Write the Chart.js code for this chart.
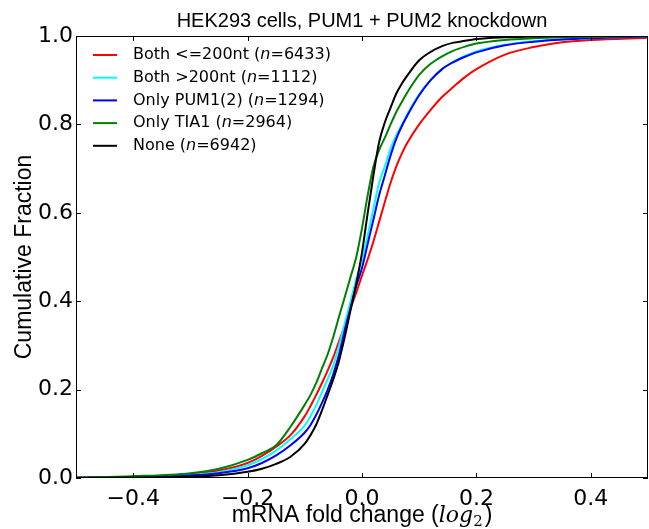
<!DOCTYPE html>
<html>
<head>
<meta charset="utf-8">
<script src="https://cdn.jsdelivr.net/npm/chart.js@4.4.1/dist/chart.umd.min.js"></script>
<style>
  body { margin: 0; background: #fff; }
  canvas { display: block; }
</style>
</head>
<body>
<canvas id="cdf" width="649" height="529"></canvas>
<script>
// fold change grid (log2) and cumulative fractions
const foldChange = [-0.5, -0.4, -0.3, -0.25, -0.2, -0.175, -0.15, -0.125, -0.1, -0.09,
  -0.08, -0.07, -0.06, -0.05, -0.04, -0.03, -0.02, -0.01, 0, 0.01,
  0.02, 0.03, 0.04, 0.05, 0.06, 0.07, 0.08, 0.1, 0.12, 0.14,
  0.16, 0.18, 0.2, 0.25, 0.3, 0.35, 0.4, 0.5];

const bothShort = [0.001, 0.003, 0.009, 0.017, 0.034, 0.05, 0.071, 0.097, 0.14, 0.163,
  0.188, 0.215, 0.243, 0.274, 0.31, 0.345, 0.383, 0.42, 0.458, 0.495,
  0.535, 0.58, 0.625, 0.668, 0.705, 0.735, 0.76, 0.80, 0.833, 0.862,
  0.885, 0.907, 0.925, 0.958, 0.975, 0.986, 0.991, 0.996];
const bothLong = [0.0005, 0.002, 0.007, 0.013, 0.029, 0.043, 0.062, 0.088, 0.119, 0.14,
  0.165, 0.194, 0.224, 0.256, 0.30, 0.35, 0.40, 0.45, 0.495, 0.55,
  0.61, 0.668, 0.705, 0.745, 0.775, 0.80, 0.825, 0.868, 0.90, 0.925,
  0.942, 0.955, 0.965, 0.98, 0.988, 0.992, 0.995, 0.999];
const onlyPum = [0.0005, 0.002, 0.006, 0.011, 0.022, 0.034, 0.051, 0.074, 0.103, 0.12,
  0.143, 0.17, 0.20, 0.236, 0.28, 0.335, 0.385, 0.435, 0.475, 0.53,
  0.585, 0.64, 0.685, 0.73, 0.768, 0.797, 0.822, 0.866, 0.90, 0.925,
  0.941, 0.953, 0.963, 0.979, 0.987, 0.992, 0.995, 0.999];
const onlyTia = [0.001, 0.004, 0.011, 0.021, 0.041, 0.056, 0.074, 0.116, 0.166, 0.188,
  0.215, 0.248, 0.28, 0.32, 0.366, 0.41, 0.455, 0.50, 0.565, 0.64,
  0.705, 0.742, 0.77, 0.80, 0.828, 0.852, 0.874, 0.912, 0.937, 0.954,
  0.967, 0.976, 0.983, 0.991, 0.995, 0.997, 0.998, 1.0];
const noneSet = [0.0, 0.001, 0.003, 0.006, 0.014, 0.021, 0.032, 0.048, 0.078, 0.097,
  0.121, 0.153, 0.188, 0.224, 0.266, 0.32, 0.38, 0.44, 0.51, 0.60,
  0.685, 0.76, 0.805, 0.838, 0.87, 0.893, 0.912, 0.945, 0.964, 0.977,
  0.985, 0.989, 0.993, 0.997, 0.999, 0.9995, 1.0, 1.0];

const seriesNames = ["Both <=200nt", "Both >200nt", "Only PUM1(2)", "Only TIA1", "None"];
const seriesCounts = [6433, 1112, 1294, 2964, 6942];
const seriesValues = [bothShort, bothLong, onlyPum, onlyTia, noneSet];
const seriesColors = ["#ff0000", "#00ffff", "#0000ff", "#008000", "#000000"];

const xTicks = [-0.4, -0.2, 0.0, 0.2, 0.4];
const yTicks = [0.0, 0.2, 0.4, 0.6, 0.8, 1.0];

const fmt = (v) => (v < -1e-9 ? "\u2212" : "") + Math.abs(v).toFixed(1);

// frame, inward ticks on all sides, title, axis labels, legend
const decorations = {
  id: "decorations",
  afterDatasetsDraw(chart) {
    const { ctx, chartArea: a, scales } = chart;
    ctx.save();
    ctx.strokeStyle = "#000";
    ctx.lineWidth = 1;
    ctx.strokeRect(Math.round(a.left) + 0.5, Math.round(a.top) + 0.5,
      Math.round(a.right - a.left) - 1, Math.round(a.bottom - a.top) - 1);

    ctx.beginPath();
    xTicks.forEach((v) => {
      const px = Math.round(scales.x.getPixelForValue(v)) + 0.5;
      ctx.moveTo(px, a.bottom); ctx.lineTo(px, a.bottom - 5);
      ctx.moveTo(px, a.top); ctx.lineTo(px, a.top + 5);
    });
    yTicks.forEach((v) => {
      const py = Math.round(scales.y.getPixelForValue(v)) + 0.5;
      ctx.moveTo(a.left, py); ctx.lineTo(a.left + 5, py);
      ctx.moveTo(a.right, py); ctx.lineTo(a.right - 5, py);
    });
    ctx.stroke();

    // title
    ctx.fillStyle = "#000";
    ctx.textAlign = "center";
    ctx.textBaseline = "alphabetic";
    ctx.font = '20px "Liberation Sans"';
    ctx.fillText("HEK293 cells, PUM1 + PUM2 knockdown", (a.left + a.right) / 2, 27);

    // y label
    ctx.save();
    ctx.translate(31, (a.top + a.bottom) / 2);
    ctx.rotate(-Math.PI / 2);
    ctx.font = '23px "Liberation Sans"';
    ctx.fillText("Cumulative Fraction", 0, 0);
    ctx.restore();

    // x label with math-style log2
    const partA = "mRNA fold change (";
    ctx.font = '23px "Liberation Sans"';
    const wA = ctx.measureText(partA).width;
    ctx.font = 'italic 22px "DejaVu Serif"';
    const wLog = ctx.measureText("log").width;
    ctx.font = '15px "DejaVu Serif"';
    const wSub = ctx.measureText("2").width;
    ctx.font = '23px "Liberation Sans"';
    const wC = ctx.measureText(")").width;
    let xs = (a.left + a.right) / 2 - (wA + wLog + wSub + 2 + wC) / 2;
    const base = 522;
    ctx.textAlign = "left";
    ctx.fillText(partA, xs, base); xs += wA;
    ctx.font = 'italic 22px "DejaVu Serif"';
    ctx.fillText("log", xs, base); xs += wLog;
    ctx.font = '15px "DejaVu Serif"';
    ctx.fillText("2", xs, base + 4); xs += wSub + 2;
    ctx.font = '23px "Liberation Sans"';
    ctx.fillText(")", xs, base);

    // legend
    ctx.textBaseline = "middle";
    seriesNames.forEach((name, i) => {
      const y = 55 + i * 22.7;
      ctx.strokeStyle = seriesColors[i];
      ctx.lineWidth = 2;
      ctx.beginPath();
      ctx.moveTo(93, y); ctx.lineTo(117, y);
      ctx.stroke();
      let tx = 133;
      ctx.fillStyle = "#000";
      ctx.font = '16px "DejaVu Sans"';
      const p1 = name + " (";
      ctx.fillText(p1, tx, y); tx += ctx.measureText(p1).width;
      ctx.font = 'italic 16px "DejaVu Sans"';
      ctx.fillText("n", tx, y); tx += ctx.measureText("n").width;
      ctx.font = '16px "DejaVu Sans"';
      ctx.fillText("=" + seriesCounts[i] + ")", tx, y);
    });
    ctx.restore();
  }
};

new Chart(document.getElementById("cdf"), {
  type: "line",
  data: {
    datasets: seriesNames.map((name, i) => ({
      label: name + " (n=" + seriesCounts[i] + ")",
      data: foldChange.map((x, j) => ({ x: x, y: seriesValues[i][j] })),
      borderColor: seriesColors[i],
      borderWidth: 2,
      pointRadius: 0,
      fill: false,
      cubicInterpolationMode: "monotone",
      order: seriesNames.length - i,
    })),
  },
  options: {
    responsive: false,
    animation: false,
    events: [],
    layout: { padding: { top: 36, right: 1, left: 0, bottom: 0 } },
    plugins: {
      legend: { display: false },
      title: { display: false },
      tooltip: { enabled: false },
    },
    scales: {
      x: {
        type: "linear",
        min: -0.5,
        max: 0.5,
        grid: { display: false, drawTicks: false },
        border: { display: false },
        afterBuildTicks: (s) => { s.ticks = xTicks.map((v) => ({ value: v })); },
        afterFit: (s) => { s.height = 51; },
        ticks: {
          color: "#000",
          padding: 8,
          font: { family: "DejaVu Sans", size: 22 },
          maxRotation: 0,
          callback: (v) => fmt(v),
        },
      },
      y: {
        min: 0,
        max: 1,
        grid: { display: false, drawTicks: false },
        border: { display: false },
        afterBuildTicks: (s) => { s.ticks = yTicks.map((v) => ({ value: v })); },
        afterFit: (s) => { s.width = 76; },
        ticks: {
          color: "#000",
          padding: 3,
          font: { family: "DejaVu Sans", size: 22 },
          callback: (v) => fmt(v),
        },
      },
    },
  },
  plugins: [decorations],
});
</script>
</body>
</html>
